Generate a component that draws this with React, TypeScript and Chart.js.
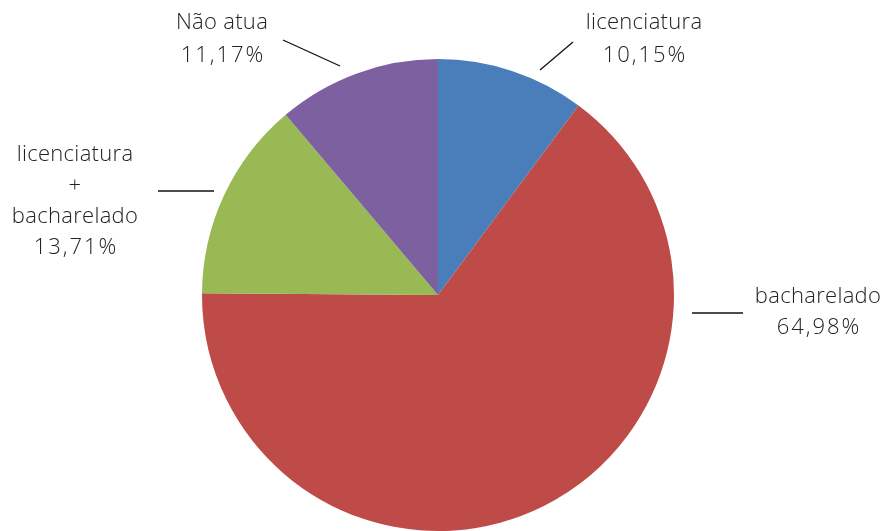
import React, { useEffect, useRef } from "react";
import { Chart, registerables } from "chart.js";

Chart.register(...registerables);

const categories = ["licenciatura", "bacharelado", "licenciatura + bacharelado", "Não atua"];
const values = [10.15, 64.98, 13.71, 11.17];
const valueLabels = ["10,15%", "64,98%", "13,71%", "11,17%"];
const colors = ["#4A7EBB", "#BE4B48", "#98B954", "#7D60A0"];

const nameLines = [
  ["licenciatura"],
  ["bacharelado"],
  ["licenciatura", "+", "bacharelado"],
  ["Não atua"],
];

const labelPlugin = {
  id: "pieLabels",
  afterDraw(chart: any) {
    const meta = chart.getDatasetMeta(0);
    const arc0 = meta.data[0];
    if (!arc0) return;
    const cx = arc0.x;
    const cy = arc0.y;
    const ctx = chart.ctx;
    ctx.save();
    ctx.fillStyle = "#222";
    ctx.textAlign = "center";
    ctx.textBaseline = "middle";
    const place = [
      { x: cx + 206, y: cy - 272, gap: 33, line: [[cx + 135, cy - 253], [cx + 102, cy - 225]] },
      { x: cx + 380, y: cy + 2, gap: 31, line: [[cx + 254, cy + 18], [cx + 305, cy + 18]] },
      { x: cx - 363, y: cy - 140, gap: 31, line: [[cx - 280, cy - 104], [cx - 224, cy - 104]] },
      { x: cx - 216, y: cy - 272, gap: 33, line: [[cx - 155, cy - 255], [cx - 98, cy - 229]] },
    ];
    place.forEach((p, i) => {
      const lines = [...nameLines[i], valueLabels[i]];
      lines.forEach((t, j) => {
        const isVal = j === lines.length - 1;
        ctx.font = "300 22px 'Open Sans', 'Noto Sans', sans-serif";
        (ctx as any).letterSpacing = isVal ? "2px" : "0.3px";
        ctx.fillText(t, p.x + (isVal ? 1 : 0), p.y + j * p.gap);
      });
      (ctx as any).letterSpacing = "0px";
      ctx.beginPath();
      ctx.strokeStyle = "#111";
      ctx.lineWidth = 1.3;
      ctx.moveTo(p.line[0][0], p.line[0][1]);
      ctx.lineTo(p.line[1][0], p.line[1][1]);
      ctx.stroke();
    });
    ctx.restore();
  },
};

export default function App() {
  const ref = useRef<HTMLCanvasElement>(null);
  useEffect(() => {
    document.body.style.margin = "0";
    const chart = new Chart(ref.current!, {
      type: "pie",
      data: {
        labels: categories,
        datasets: [
          {
            data: values,
            backgroundColor: colors,
            borderWidth: 0,
          },
        ],
      },
      options: {
        animation: false,
        responsive: false,
        layout: { padding: { top: 59, bottom: 0, left: 0, right: 8 } },
        plugins: { legend: { display: false }, tooltip: { enabled: false } },
      },
      plugins: [labelPlugin],
    });
    return () => chart.destroy();
  }, []);
  return (
    <div style={{ width: 884, height: 531, background: "#fff" }}>
      <canvas ref={ref} width={884} height={531} />
    </div>
  );
}
